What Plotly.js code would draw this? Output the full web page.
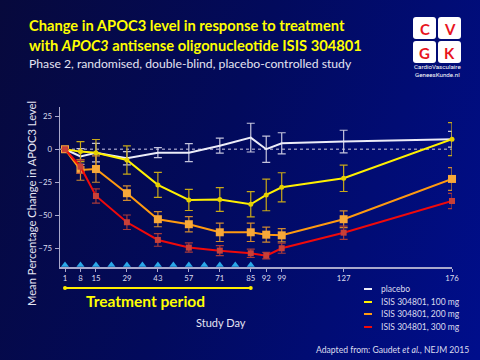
<!DOCTYPE html>
<html>
<head>
<meta charset="utf-8">
<script src="https://cdn.plot.ly/plotly-3.0.1.min.js"></script>
<style>
html,body{margin:0;padding:0;}
body{width:480px;height:360px;overflow:hidden;background:linear-gradient(110deg,#07093c 0%,#020a5c 45%,#000e8c 100%);}
#chart{width:480px;height:360px;}
</style>
</head>
<body>
<div id="chart"></div>
<script>
// ---- data ----
const days = [1, 8, 15, 29, 43, 57, 71, 85, 92, 99, 127, 176];
const tickDays = [1, 8, 15, 29, 43, 57, 71, 85, 92, 99, 127, 176];
const dosingDays = [1, 8, 15, 22, 29, 36, 43, 50, 57, 64, 71, 78, 85];
const treatmentPeriod = [1, 85];
const seriesNames = ["placebo", "ISIS 304801, 100 mg", "ISIS 304801, 200 mg", "ISIS 304801, 300 mg"];
const placebo    = [0, -5.5, -2.6, -6.8, -2.6, -2.6, 2.7, 8.8, 0.0, 4.5, 5.8, 7.6];
const placeboErr = [0, 6, 7, 5, 3.8, 6.8, 5.7, 10.9, 10, 8, 8.6, 6];
const dose100    = [0, -1.8, -2.6, -8.1, -27.0, -38.4, -38.0, -41.7, -34.6, -28.8, -22.0, 7.6];
const dose100Err = [0, 7.6, 10, 10.7, 9.5, 8, 9, 9.6, 12, 11, 10, 12.5];
const dose200    = [0, -15.7, -15.0, -33.3, -53.0, -56.8, -62.9, -62.9, -64.7, -65.2, -53.0, -22.5];
const dose200Err = [0, 7.8, 10, 5.5, 5.7, 5.8, 7, 7, 5.7, 5, 6.3, 8.6];
const dose300    = [0, -13.2, -35.4, -55.3, -68.7, -74.5, -76.8, -78.8, -80.6, -75.0, -63.2, -39.2];
const dose300Err = [0, 5, 5.4, 5.5, 4.8, 3.5, 3.8, 3.2, 2.5, 3.8, 5, 5.8];
const yTicks = [25, 0, -25, -50, -75];

// ---- geometry helpers (pixel -> paper) ----
const L = 60, R = 452, T = 107, B = 267;
const px = x => (x - L) / (R - L);
const py = y => (B - y) / (B - T);
const FONT = "Lato, 'Open Sans', sans-serif";

const lineCols = ["#ececf8", "#fff000", "#ff9a10", "#f00a0a"];
const errCols  = ["#c4c4dc", "#c8a818", "#d08a30", "#a83a3a"];
const markerCols = ["#ececf8", "#e6d000", "#f7a83a", "#c84038"];
const markerSyms = ["circle", "circle", "square", "square"];
const markerSizes = [1, 5, 8, 6];
const ys = [placebo, dose100, dose200, dose300];
const es = [placeboErr, dose100Err, dose200Err, dose300Err];

const traces = ys.map((y, i) => ({
  type: "scatter",
  x: days, y: y,
  name: seriesNames[i],
  mode: i === 0 ? "lines" : "lines+markers",
  line: {color: lineCols[i], width: 2},
  marker: {symbol: markerSyms[i], size: markerSizes[i], color: markerCols[i]},
  error_y: {type: "data", array: es[i], visible: true, color: errCols[i], thickness: 1.2, width: 4},
  showlegend: false,
  cliponaxis: false,
  hoverinfo: "x+y"
}));

// dosing triangles
traces.push({
  type: "scatter", x: dosingDays, y: dosingDays.map(() => -87.6),
  mode: "markers", marker: {symbol: "triangle-up", size: 7, color: "#2aa8e8"},
  showlegend: false, cliponaxis: false, hoverinfo: "x"
});

const shapes = [
  {type: "line", xref: "paper", yref: "y", x0: 0, x1: 1, y0: 0, y1: 0,
   line: {color: "#8a8ab8", width: 1.5, dash: "dot"}, layer: "below"}
];
// treatment period bar (from data days 1..85)
const tpY = py(288);
shapes.push({type: "line", xref: "x", yref: "paper", x0: treatmentPeriod[0], x1: treatmentPeriod[1], y0: tpY, y1: tpY,
  line: {color: "#ffee00", width: 2}});
treatmentPeriod.forEach(d => shapes.push({type: "circle", xref: "x", yref: "paper", xsizemode: "pixel", ysizemode: "pixel",
  xanchor: d, yanchor: tpY, x0: -2, x1: 2, y0: -2, y1: 2, fillcolor: "#ffee00", line: {width: 0}}));

// custom legend lines
const legY = [289, 302, 314, 327];
legY.forEach((y, i) => {
  shapes.push({type: "line", xref: "paper", yref: "paper", x0: px(364), x1: px(372), y0: py(y), y1: py(y),
    line: {color: lineCols[i], width: 2}});
});
// logo squares (rounded)
function rrect(x0, y0, x1, y1, r) {
  const P = (x, y) => px(x) + "," + py(y);
  return "M" + P(x0 + r, y0) + " L" + P(x1 - r, y0) + " Q" + P(x1, y0) + " " + P(x1, y0 + r) +
    " L" + P(x1, y1 - r) + " Q" + P(x1, y1) + " " + P(x1 - r, y1) +
    " L" + P(x0 + r, y1) + " Q" + P(x0, y1) + " " + P(x0, y1 - r) +
    " L" + P(x0, y0 + r) + " Q" + P(x0, y0) + " " + P(x0 + r, y0) + " Z";
}
const sq = [[413, 17, 436, 39], [438, 17, 461, 39], [413, 41, 436, 63], [438, 41, 461, 63]];
sq.forEach(s => shapes.push({type: "path", xref: "paper", yref: "paper", path: rrect(s[0], s[1], s[2], s[3], 3),
  fillcolor: "#ffffff", line: {width: 0}}));

const annotations = [];
const txt = (x, y, text, size, color, opts) => Object.assign({
  xref: "paper", yref: "paper", x: px(x), y: py(y), text: text, showarrow: false,
  font: {family: FONT, size: size, color: color},
  xanchor: "left", yanchor: "middle"
}, opts || {});

annotations.push(txt(27, 25, "<b>Change in APOC3 level in response to treatment</b>", 14.7, "#ffff00"));
annotations.push(txt(27, 45, "<b>with <i>APOC3</i> antisense oligonucleotide ISIS 304801</b>", 14.7, "#ffff00"));
annotations.push(txt(27, 63, "Phase 2, randomised, double-blind, placebo-controlled study", 12.2, "#e4e4f2"));
annotations.push(txt(145, 301, "<b>Treatment period</b>", 15.5, "#ffff00", {xanchor: "center"}));
annotations.push(txt(221, 322, "Study Day", 11, "#e4e4f2", {xanchor: "center"}));
annotations.push(txt(31, 204, "Mean Percentage Change in APOC3 Level", 11.2, "#e4e4f2", {xanchor: "center", textangle: -90}));
seriesNames.forEach((n, i) => annotations.push(txt(379, legY[i], n, 8.5, "#dcdcee")));
annotations.push(txt(471, 350, "Adapted from: Gaudet <i>et al.</i>, NEJM 2015", 8.6, "#dcdcee", {xanchor: "right"}));
// logo letters
const letters = ["C", "V", "G", "K"];
sq.forEach((s, i) => annotations.push(txt((s[0] + s[2]) / 2, (s[1] + s[3]) / 2 + 1, "<b>" + letters[i] + "</b>", 15, "#e8141e",
  {xanchor: "center"})));
annotations.push(txt(437, 67, "CardioVasculaire", 6.2, "#ffffff", {xanchor: "center", font: {family: "Roboto, sans-serif", size: 6.2, color: "#ffffff"}}));
annotations.push(txt(437, 74.5, "GeneesKunde.nl", 6.2, "#ffffff", {xanchor: "center", font: {family: "Roboto, sans-serif", size: 6.2, color: "#ffffff"}}));

const layout = {
  width: 480, height: 360, autosize: false,
  paper_bgcolor: "rgba(0,0,0,0)", plot_bgcolor: "rgba(0,0,0,0)",
  margin: {l: L, r: 480 - R, t: T, b: 360 - B, pad: 0},
  font: {family: FONT, color: "#dcdcee"},
  xaxis: {
    range: [-1.26, 176.0], tickmode: "array", tickvals: tickDays, ticktext: tickDays.map(String),
    showgrid: false, zeroline: false, showline: true, linecolor: "#a8a8cc", linewidth: 1.5,
    ticks: "outside", ticklen: 3, tickcolor: "#a8a8cc",
    tickfont: {size: 7.8, color: "#dcdcee"}
  },
  yaxis: {
    range: [-89.2, 32.0], tickmode: "array", tickvals: yTicks,
    showgrid: false, zeroline: false, showline: true, linecolor: "#a8a8cc", linewidth: 1.5,
    ticks: "outside", ticklen: 4, tickcolor: "#a8a8cc", ticklabelstandoff: 1,
    tickfont: {size: 7.8, color: "#dcdcee"}
  },
  shapes: shapes,
  annotations: annotations,
  showlegend: false
};

Plotly.newPlot("chart", traces, layout, {displayModeBar: false, staticPlot: true});
</script>
</body>
</html>
